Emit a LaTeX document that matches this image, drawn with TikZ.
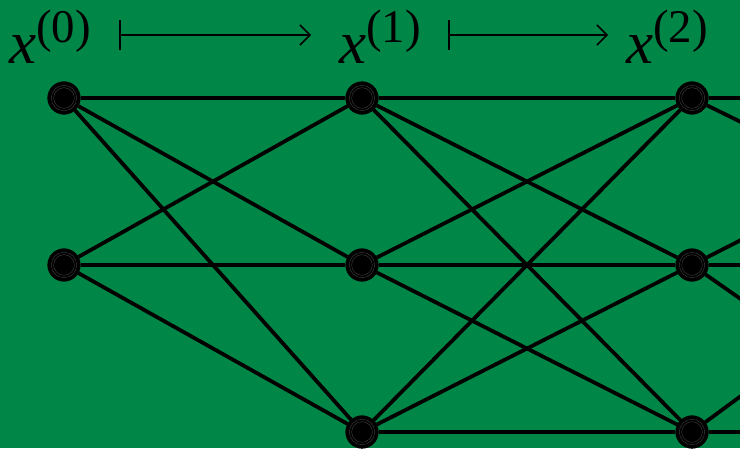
\documentclass[tikz,border=0pt]{standalone}
\usepackage{fontspec}
\setmainfont{Liberation Serif}
\usetikzlibrary{arrows.meta}

\definecolor{bggreen}{RGB}{0,134,70}
\newcommand{\lyr}[1]{{\fontsize{52}{60}\selectfont\textit{x}\raisebox{0.6cm}{\fontsize{40}{44}\selectfont(#1)}}}

\tikzset{
  unit/.style={circle, fill=black, draw=black, inner sep=0pt, minimum size=0.98cm,
    path picture={\draw[gray!55!black, line width=0.3pt] (path picture bounding box.center) circle (0.38cm);
                  \draw[gray!55!black, line width=0.3pt] (path picture bounding box.center) circle (0.31cm);}},
  edge/.style={line width=3.2pt, black},
  mapsto/.style={line width=1.3pt, {Bar[width=0.9cm]}-{Straight Barb[length=0.3cm, width=0.6cm]}},
  lab/.style={anchor=base west, inner sep=0pt}
}

\begin{document}
\begin{tikzpicture}[>=Stealth, x=0.03cm, y=-0.03cm]
  \fill[bggreen] (0,0) rectangle (740,448);
  \useasboundingbox (0,0) rectangle (740,448);
  \clip (0,0) rectangle (740,448);

  % layer labels
  \node[lab] (l0) at (9,63) {\lyr{0}};
  \node[lab] (l1) at (339,63) {\lyr{1}};
  \node[lab] (l2) at (626,63) {\lyr{2}};
  \coordinate (a0) at (119,35);
  \coordinate (b0) at (311,35);
  \coordinate (a1) at (448,35);
  \coordinate (b1) at (608,35);
  \draw[mapsto] (a0) -- (b0);
  \draw[mapsto] (a1) -- (b1);

  % units
  \node[unit] (n00) at (64,98) {};
  \node[unit] (n01) at (64,265) {};
  \node[unit] (n10) at (362,98) {};
  \node[unit] (n11) at (362,265) {};
  \node[unit] (n12) at (362,432) {};
  \node[unit] (n20) at (692,98) {};
  \node[unit] (n21) at (692,265) {};
  \node[unit] (n22) at (692,432) {};

  % connections going off the right edge
  \coordinate (o0) at (745,98);
  \coordinate (o1) at (745,124);
  \coordinate (o2) at (745,238);
  \coordinate (o3) at (745,265);
  \coordinate (o4) at (745,302);
  \coordinate (o5) at (745,393);
  \coordinate (o6) at (745,432);

  \foreach \a in {n00,n01}
    \foreach \b in {n10,n11,n12}
      \draw[edge] (\a) -- (\b);
  \foreach \a in {n10,n11,n12}
    \foreach \b in {n20,n21,n22}
      \draw[edge] (\a) -- (\b);
  \draw[edge] (n20) -- (o0);
  \draw[edge] (n20) -- (o1);
  \draw[edge] (n21) -- (o2);
  \draw[edge] (n21) -- (o3);
  \draw[edge] (n21) -- (o4);
  \draw[edge] (n22) -- (o5);
  \draw[edge] (n22) -- (o6);
\end{tikzpicture}
\end{document}
